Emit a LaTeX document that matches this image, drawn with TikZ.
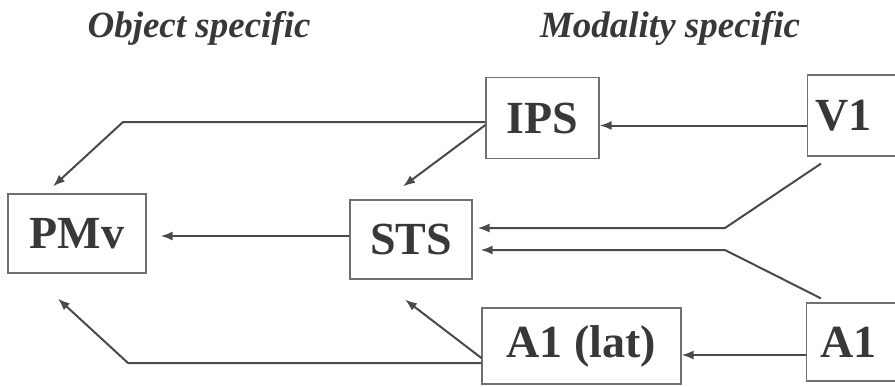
\documentclass[tikz,border=0pt]{standalone}
\usepackage{fontspec}
\setmainfont{Liberation Serif}
\usetikzlibrary{calc}
\usetikzlibrary{arrows.meta}
\definecolor{linegray}{HTML}{4A4A4A}
\definecolor{boxgray}{HTML}{707070}
\definecolor{textgray}{HTML}{383838}

\begin{document}
\begin{tikzpicture}[x=0.5pt,y=-0.5pt,
  area/.style={draw=boxgray,line width=0.6pt,inner sep=0pt,text=textgray,
    font=\fontsize{23}{23}\selectfont\bfseries},
  sidearea/.style={area,anchor=west,text width=60pt,align=left},
  heading/.style={text=textgray,font=\fontsize{18.5}{18.5}\selectfont\bfseries\itshape},
  link/.style={draw=linegray,line width=1pt,-{Latex[length=6pt,width=4.5pt]}}]
\useasboundingbox (0,0) rectangle (895,386);

\node[heading] (objtitle) at (199,28) {Object specific};
\node[heading] (modtitle) at (670,28) {Modality specific};

\node[area,minimum width=69pt,minimum height=39.5pt] (pmv) at (77,233.5) {PMv};
\node[area,minimum width=61pt,minimum height=39.5pt] (sts) at (411,239.5) {STS};
\node[area,minimum width=56.5pt,minimum height=40.5pt] (ips) at (542.5,118) {IPS};
\node[area,minimum width=99.5pt,minimum height=38pt] (alat) at (581.5,346) {A1 (lat)};
\node[sidearea,inner xsep=4pt,minimum height=40.5pt] (vone) at (807,115.5) {V1};
\node[sidearea,inner xsep=7pt,minimum height=39pt] (aone) at (806,342) {A1};

% bends of the long connectors
\coordinate (ipsbend) at (123,122);
\coordinate (alatbend) at (128,363);
\coordinate (vonebend) at (725,228);
\coordinate (aonebend) at (725,250);

\draw[link] ([yshift=-5pt]vone.west) -- ([yshift=-5pt]vone.west -| ips.east);
\draw[link] ([yshift=-6.5pt]aone.west) -- ([yshift=-6.5pt]aone.west -| alat.east);

\draw[link] (ips.west |- ipsbend) -- (ipsbend)
  -- ([xshift=-12pt,yshift=3.5pt]pmv.north);
\draw[link] ([yshift=-3.5pt]ips.west) -- ([xshift=-4pt,yshift=6.5pt]sts.north);
\draw[link,shorten >=7pt] ([yshift=1.75pt]sts.west) -- ([yshift=1.75pt]sts.west -| pmv.east);

\draw[link,shorten >=2.5pt] ([xshift=7pt,yshift=-3.5pt]vone.south west) -- (vonebend)
  -- (vonebend -| sts.east);
\draw[link,shorten >=4pt] ([xshift=7.5pt,yshift=2pt]aone.north west) -- (aonebend)
  -- (aonebend -| sts.east);

\draw[link] ([yshift=-6pt]alat.west) -- ([xshift=-3pt,yshift=-10pt]sts.south);
\draw[link] ([yshift=-8.5pt]alat.west) -- (alatbend)
  -- ([xshift=-9.5pt,yshift=-12.5pt]pmv.south);
\end{tikzpicture}
\end{document}
